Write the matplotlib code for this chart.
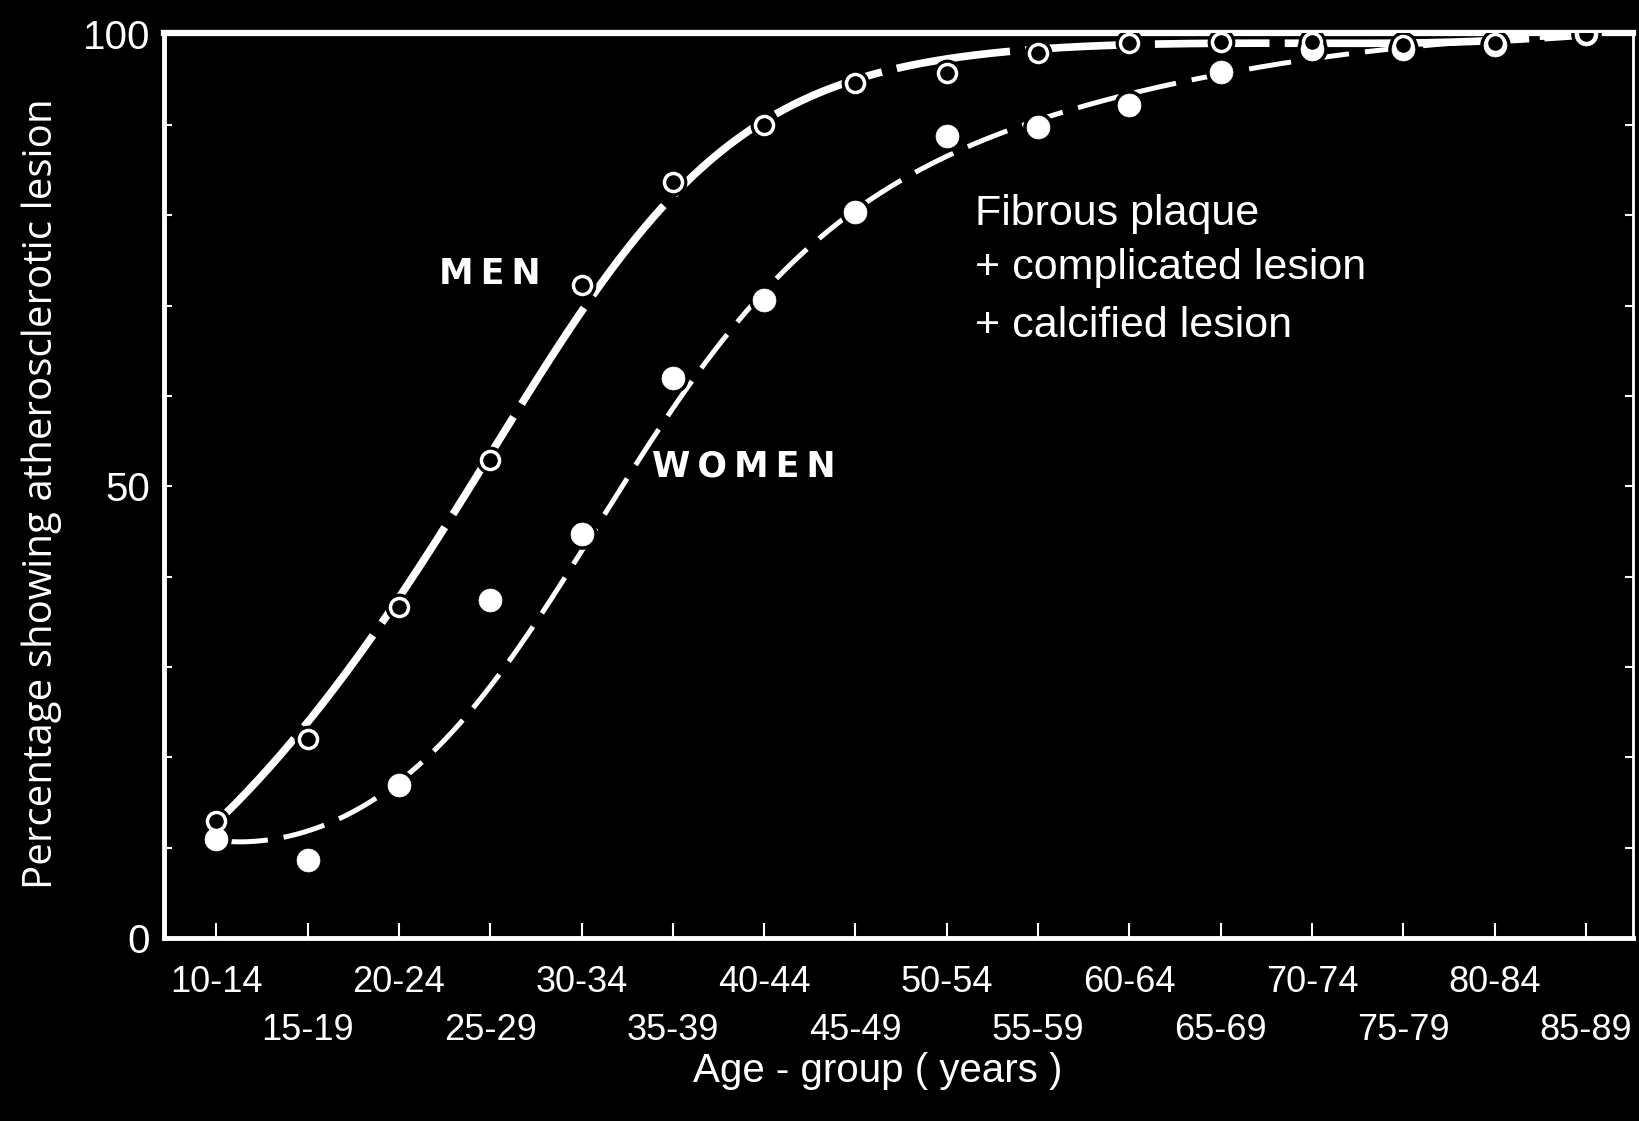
import numpy as np
import matplotlib
matplotlib.use("Agg")
import matplotlib.pyplot as plt
from matplotlib import font_manager as fm
from matplotlib.ticker import FixedLocator, FixedFormatter

# ---------------- data ----------------
age_groups = ["10-14", "15-19", "20-24", "25-29", "30-34", "35-39", "40-44", "45-49",
              "50-54", "55-59", "60-64", "65-69", "70-74", "75-79", "80-84", "85-89"]
men_pct = [13.0, 22.1, 36.7, 52.9, 72.3, 83.7, 90.0, 94.6,
           95.7, 97.9, 99.0, 99.2, 99.2, 98.8, 99.0, 100.0]
women_pct = [11.0, 8.7, 17.0, 37.4, 44.7, 62.0, 70.6, 80.3,
             88.8, 89.7, 92.2, 95.8, 98.4, 98.4, 98.8, 100.0]
y_tick_values = [0, 50, 100]
y_tick_labels = ["0", "50", "100"]
annotation_lines = ["Fibrous plaque", "+ complicated lesion", "+ calcified lesion"]

# ---------------- fonts ----------------
available = {f.name for f in fm.fontManager.ttflist}
def pick(*cands):
    for c in cands:
        if c in available:
            return c
    return "DejaVu Sans"
NARROW = pick("Liberation Sans Narrow", "DejaVu Sans Condensed", "Liberation Sans")
REG = pick("Liberation Sans", "DejaVu Sans")
HUM = pick("Open Sans", "Noto Sans", "DejaVu Sans")
BOLD = pick("DejaVu Sans")

# ---------------- smooth fitted curves (derived from the data) ----------------
def logistic_fit(x, y, deg, cap, xs, w=None):
    x = np.asarray(x, float); y = np.asarray(y, float)
    z = np.log(y / (cap - y))
    c = np.polyfit(x, z, deg, w=w)
    return cap / (1.0 + np.exp(-np.polyval(c, xs)))

idx = np.arange(len(age_groups))
xs_m = np.linspace(0.0, 15.0, 500)
xs_w = np.linspace(0.1, 15.0, 500)
men_weights = [2, 1, 1, 1, 1, 1, 1, 1, 0.3, 1, 1, 1, 1, 0.5, 1, 1]
women_weights = [2, 0.5, 2, 0.1, 1.5, 1, 2, 2, 0.7, 1, 1, 1, 1, 1, 1, 1]
men_curve = logistic_fit(idx, men_pct, 5, 100.6, xs_m, w=men_weights)
women_curve = logistic_fit(idx, women_pct, 5, 100.8, xs_w, w=women_weights)

# ---------------- figure ----------------
fig = plt.figure(figsize=(16.4, 11.21), dpi=100, facecolor="black")
ax = fig.add_axes([0.1, 0.163, 0.896, 0.808], facecolor="black")

W = "white"
ax.plot(xs_m, men_curve, color=W, lw=5.5, dashes=(15, 2.0), zorder=2)
ax.plot(xs_w, women_curve, color=W, lw=3.6, dashes=(8.5, 3.2), zorder=2)

# black halos so the lines break around the markers
ax.plot(idx, men_pct, ls="none", marker="o", ms=19, mfc="black", mec="black", zorder=3)
ax.plot(idx, women_pct, ls="none", marker="o", ms=21, mfc="black", mec="black", zorder=3)
ax.plot(idx, women_pct, ls="none", marker="o", ms=16.5, mfc=W, mec=W, mew=0.5, zorder=4)
ax.plot(idx, men_pct, ls="none", marker="o", ms=13, mfc="black", mec=W, mew=2.5, zorder=5)

ax.set_xlim(-0.573, 15.52)
ax.set_ylim(0, 100.2)

for side, lw in [("left", 3.5), ("bottom", 3.5), ("top", 4.5), ("right", 2.0)]:
    ax.spines[side].set_color(W)
    ax.spines[side].set_linewidth(lw)

# x ticks: even groups on first row, odd groups on second row
ax.xaxis.set_major_locator(FixedLocator(idx[0::2]))
ax.xaxis.set_major_formatter(FixedFormatter(age_groups[0::2]))
ax.xaxis.set_minor_locator(FixedLocator(idx[1::2]))
ax.xaxis.set_minor_formatter(FixedFormatter(age_groups[1::2]))
ax.tick_params(axis="x", which="major", direction="in", length=11, width=1.5, color=W,
               labelcolor=W, pad=19, labelsize=26)
ax.tick_params(axis="x", which="minor", direction="in", length=11, width=1.5, color=W,
               labelcolor=W, pad=54, labelsize=26)
for lab in ax.get_xticklabels(which="both"):
    lab.set_fontfamily(NARROW)

ax.yaxis.set_major_locator(FixedLocator(y_tick_values))
ax.yaxis.set_major_formatter(FixedFormatter(y_tick_labels))
ax.yaxis.set_minor_locator(FixedLocator([10, 20, 30, 40, 60, 70, 80, 90]))
ax.tick_params(axis="y", which="both", direction="in", length=6, width=1.5, color=W,
               right=True, labelcolor=W, pad=10, labelsize=29)
for lab in ax.get_yticklabels():
    lab.set_fontfamily(NARROW)

ax.set_xlabel("Age - group ( years )", color=W, fontsize=29, fontfamily=NARROW)
ax.xaxis.label.set_va("center")
ax.xaxis.set_label_coords(0.486, -0.146)
ax.set_ylabel("Percentage showing atherosclerotic lesion", color=W, fontsize=29, fontfamily=HUM)
ax.yaxis.label.set_va("center")
ax.yaxis.set_label_coords(-0.083, 0.491)

ax.text(2.99, 73.5, "M\u2009E\u2009N", color=W, fontsize=25, fontweight="bold",
        fontfamily=BOLD, ha="center", va="center")
ax.text(5.78, 52.2, "W\u2009O\u2009M\u2009E\u2009N", color=W, fontsize=25, fontweight="bold",
        fontfamily=BOLD, ha="center", va="center")
for line, yy in zip(annotation_lines, [80.1, 74.1, 67.7]):
    ax.text(8.31, yy, line, color=W, fontsize=31, fontfamily=REG, ha="left", va="center")

fig.savefig("out.png", dpi=100, facecolor="black")
